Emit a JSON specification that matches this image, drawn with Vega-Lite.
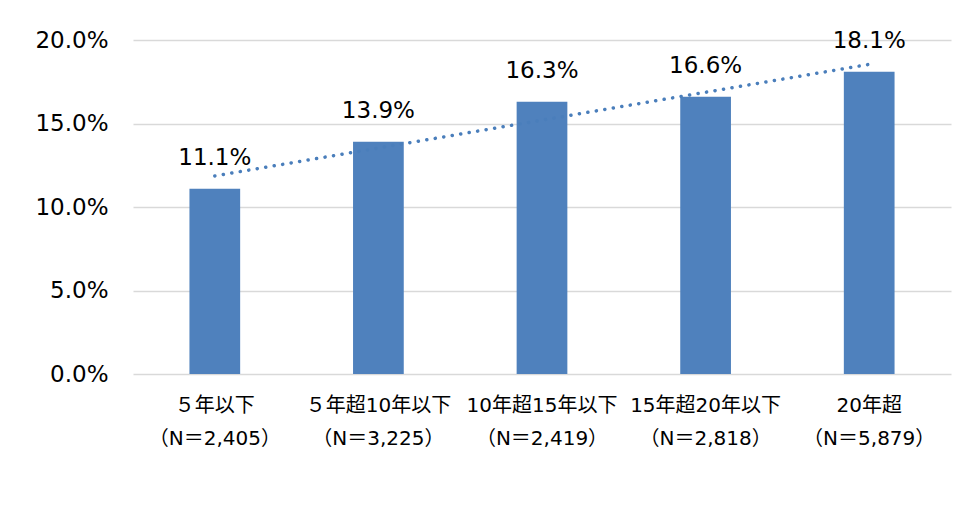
{
  "$schema": "https://vega.github.io/schema/vega-lite/v6.json",
  "autosize": "none",
  "width": 818,
  "height": 334,
  "padding": {"left": 133, "top": 40, "right": 14, "bottom": 136},
  "background": "white",
  "config": {"view": {"stroke": null}},
  "data": {
    "values": [
      {"cat": "５年以下|（N＝2,405）", "i": 1, "v": 0.111},
      {"cat": "５年超10年以下|（N＝3,225）", "i": 2, "v": 0.139},
      {"cat": "10年超15年以下|（N＝2,419）", "i": 3, "v": 0.163},
      {"cat": "15年超20年以下|（N＝2,818）", "i": 4, "v": 0.166},
      {"cat": "20年超|（N＝5,879）", "i": 5, "v": 0.181}
    ]
  },
  "layer": [
    {
      "layer": [
        {
          "mark": {"type": "bar", "color": "#4F81BD", "width": {"band": 0.31}},
          "encoding": {
            "x": {
              "field": "cat", "type": "nominal", "sort": null,
              "scale": {"paddingInner": 0, "paddingOuter": 0},
              "axis": {
                "title": null, "labelAngle": 0, "domain": false, "ticks": false,
                "labelFont": "DejaVu Sans, Noto Sans CJK JP", "labelFontSize": 20, "labelColor": "#000000",
                "labelLineHeight": 33, "labelPadding": 21,
                "labelExpr": "split(datum.label, '|')"
              }
            },
            "y": {
              "field": "v", "type": "quantitative",
              "scale": {"domain": [0, 0.2]},
              "axis": {
                "title": null, "values": [0, 0.05, 0.1, 0.15, 0.2], "format": ".1%",
                "domain": false, "ticks": false, "labelPadding": 25,
                "labelFont": "DejaVu Sans", "labelFontSize": 23, "labelColor": "#000000",
                "gridColor": "#d9d9d9", "gridWidth": 1.5
              }
            }
          }
        },
        {
          "mark": {"type": "text", "baseline": "bottom", "dy": -19, "font": "DejaVu Sans", "fontSize": 23, "color": "#000000"},
          "encoding": {
            "x": {"field": "cat", "type": "nominal", "sort": null},
            "y": {"field": "v", "type": "quantitative"},
            "text": {"field": "v", "type": "quantitative", "format": ".1%"}
          }
        }
      ]
    },
    {
      "transform": [{"regression": "v", "on": "i", "method": "linear"}],
      "mark": {"type": "line", "color": "#4A7EBB", "strokeWidth": 3.5, "strokeDash": [0.1, 8.5], "strokeCap": "round"},
      "encoding": {
        "x": {"field": "i", "type": "quantitative", "scale": {"domain": [0.5, 5.5], "nice": false, "zero": false}, "axis": null},
        "y": {"field": "v", "type": "quantitative"}
      }
    }
  ],
  "resolve": {"scale": {"x": "independent"}}
}
